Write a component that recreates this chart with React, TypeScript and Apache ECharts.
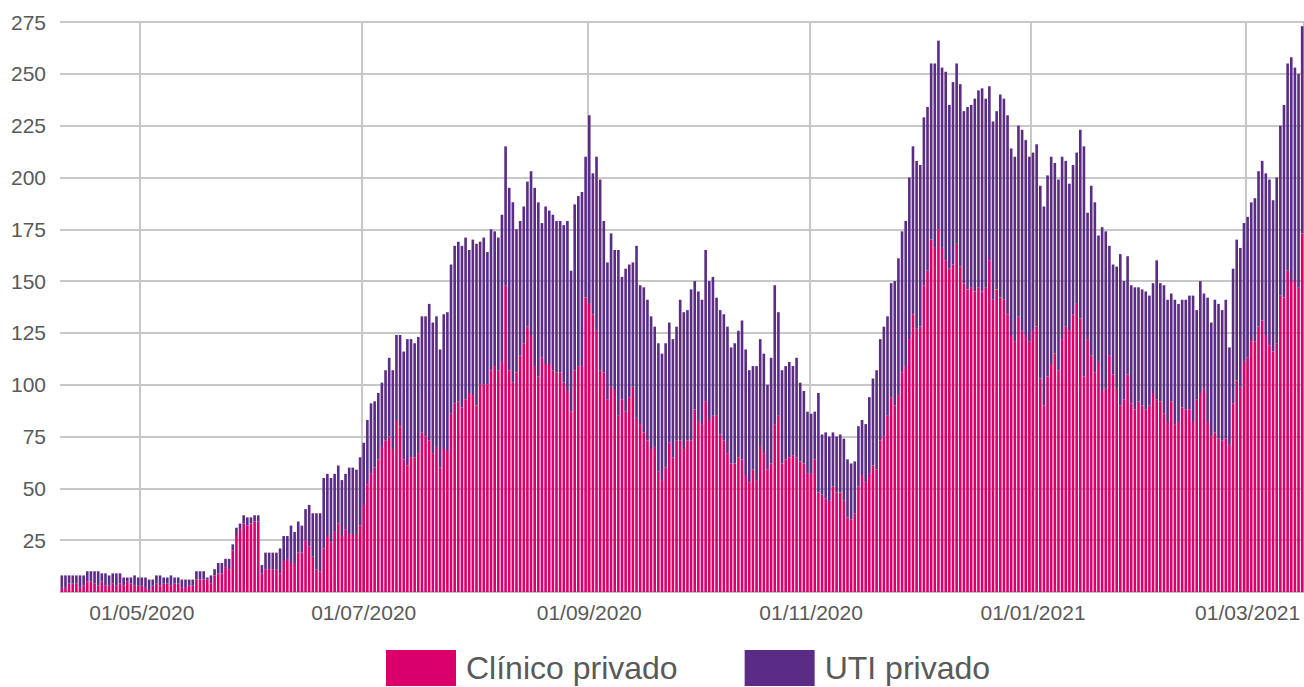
import React, { useEffect, useRef } from "react";
import * as echarts from "echarts";

// First day shown and number of daily categories
const START_DATE = "2020-04-09";
const DAY_COUNT = 342;

// Dates that carry a tick label / vertical grid line
const tickLabels = ["01/05/2020", "01/07/2020", "01/09/2020", "01/11/2020", "01/01/2021", "01/03/2021"];

const legendNames = ["Clínico privado", "UTI privado"];

// Daily occupied beds – Clínico privado (bottom, pink)
const clinico = [
  2, 2, 4, 4, 4, 2, 3, 5, 5, 4,
  3, 5, 3, 3, 4, 3, 4, 3, 5, 4,
  3, 3, 3, 2, 1, 3, 4, 3, 4, 4,
  3, 4, 4, 2, 2, 3, 3, 6, 6, 6,
  6, 4, 8, 9, 9, 12, 11, 20, 27, 30,
  33, 32, 33, 34, 34, 9, 11, 11, 11, 11,
  9, 15, 16, 14, 14, 19, 19, 25, 22, 17,
  11, 10, 21, 27, 24, 29, 33, 27, 30, 28,
  28, 28, 32, 42, 52, 57, 60, 64, 70, 73,
  75, 69, 83, 80, 64, 61, 65, 65, 67, 77,
  75, 73, 67, 70, 60, 69, 68, 86, 91, 92,
  89, 93, 96, 95, 90, 100, 100, 100, 107, 109,
  107, 111, 148, 107, 101, 106, 114, 120, 128, 124,
  109, 104, 113, 110, 110, 107, 106, 106, 101, 97,
  87, 107, 109, 109, 142, 139, 134, 126, 107, 106,
  93, 99, 97, 85, 93, 87, 94, 99, 84, 81,
  77, 73, 69, 70, 58, 54, 60, 72, 65, 73,
  73, 69, 73, 73, 88, 83, 81, 92, 83, 85,
  85, 76, 73, 67, 62, 62, 65, 64, 56, 53,
  59, 54, 70, 67, 59, 62, 81, 85, 62, 64,
  65, 66, 65, 63, 62, 57, 57, 64, 48, 47,
  45, 44, 51, 48, 48, 44, 36, 35, 38, 51,
  56, 53, 57, 61, 59, 73, 75, 85, 94, 90,
  95, 106, 109, 122, 134, 127, 128, 148, 155, 170,
  166, 175, 166, 160, 156, 158, 168, 157, 149, 146,
  147, 145, 147, 145, 147, 160, 141, 146, 142, 141,
  134, 124, 121, 133, 126, 124, 121, 126, 128, 103,
  90, 104, 110, 115, 107, 122, 128, 126, 134, 139,
  132, 104, 122, 114, 106, 111, 97, 98, 114, 105,
  98, 90, 93, 105, 91, 88, 92, 90, 88, 90,
  96, 93, 92, 86, 82, 92, 81, 82, 89, 88,
  88, 82, 93, 96, 98, 82, 75, 77, 74, 73,
  74, 71, 91, 102, 99, 111, 113, 121, 121, 128,
  131, 124, 119, 116, 120, 143, 142, 155, 150, 150,
  147, 173,
];

// Daily occupied beds – UTI privado (stacked on top, purple)
const uti = [
  6, 6, 4, 4, 4, 6, 5, 5, 5, 6,
  7, 4, 6, 5, 5, 6, 5, 4, 2, 3,
  5, 4, 4, 5, 5, 3, 4, 5, 3, 3,
  5, 3, 3, 4, 4, 3, 3, 4, 4, 4,
  1, 4, 3, 5, 5, 4, 5, 3, 4, 3,
  4, 4, 3, 3, 3, 4, 8, 8, 8, 8,
  12, 12, 11, 18, 15, 15, 13, 15, 20, 21,
  27, 28, 34, 30, 31, 28, 28, 27, 27, 32,
  32, 31, 33, 30, 31, 34, 32, 32, 31, 34,
  38, 38, 41, 44, 52, 61, 57, 55, 56, 56,
  58, 66, 63, 63, 57, 65, 67, 72, 76, 77,
  78, 78, 69, 75, 78, 69, 71, 64, 68, 65,
  64, 71, 67, 88, 87, 69, 65, 66, 70, 79,
  86, 84, 65, 76, 74, 75, 73, 73, 76, 82,
  68, 80, 82, 84, 68, 91, 68, 84, 92, 73,
  66, 74, 68, 80, 59, 69, 64, 60, 83, 67,
  70, 68, 64, 58, 62, 61, 60, 58, 57, 55,
  68, 66, 63, 73, 62, 62, 60, 73, 67, 67,
  57, 60, 61, 61, 56, 58, 61, 67, 61, 54,
  50, 55, 52, 48, 41, 51, 67, 50, 45, 45,
  46, 43, 48, 38, 35, 30, 29, 23, 48, 29,
  32, 31, 26, 27, 28, 30, 28, 27, 25, 29,
  27, 28, 37, 42, 48, 49, 53, 48, 55, 60,
  66, 68, 70, 78, 81, 81, 78, 81, 79, 85,
  89, 91, 87, 91, 79, 88, 87, 88, 83, 88,
  88, 93, 95, 98, 91, 84, 86, 86, 98, 97,
  96, 90, 89, 92, 97, 94, 89, 86, 88, 93,
  96, 97, 100, 92, 92, 88, 80, 71, 72, 73,
  91, 111, 61, 82, 82, 61, 79, 76, 53, 53,
  59, 73, 57, 57, 57, 59, 55, 56, 57, 53,
  53, 67, 57, 62, 59, 52, 60, 57, 52, 53,
  55, 61, 43, 54, 46, 60, 55, 64, 65, 63,
  67, 47, 65, 68, 67, 67, 68, 67, 69, 75,
  77, 78, 80, 73, 80, 82, 93, 100, 108, 103,
  103, 100,
];

const pad = (n: number) => (n < 10 ? "0" + n : String(n));

function buildCategories(): string[] {
  const out: string[] = [];
  const start = new Date(START_DATE + "T00:00:00Z").getTime();
  for (let k = 0; k < DAY_COUNT; k++) {
    const d = new Date(start + k * 86400000);
    out.push(pad(d.getUTCDate()) + "/" + pad(d.getUTCMonth() + 1) + "/" + d.getUTCFullYear());
  }
  return out;
}

const FONT = "'Liberation Sans', Arial, Helvetica, sans-serif";

export default function App() {
  const ref = useRef<HTMLDivElement>(null);

  useEffect(() => {
    document.body.style.margin = "0";
    if (!ref.current) return;
    const chart = echarts.init(ref.current, undefined, { renderer: "svg" });
    const categories = buildCategories();
    const showTick = (_i: number, v: string) => tickLabels.indexOf(v) >= 0;

    chart.setOption({
      animation: false,
      color: ["#D9006B", "#5B2C86"],
      textStyle: { fontFamily: FONT },
      grid: { left: 60, right: 0, top: 22, bottom: 95, containLabel: false },
      legend: {
        data: legendNames,
        top: 645,
        left: 381,
        icon: "rect",
        itemWidth: 70,
        itemHeight: 36,
        itemGap: 67,
        textStyle: {
          fontSize: 32,
          lineHeight: 36,
          color: "#595959",
          fontFamily: FONT,
          padding: [0, 0, 0, 5],
        },
      },
      xAxis: {
        type: "category",
        data: categories,
        axisTick: { show: false },
        axisLine: { lineStyle: { color: "#bfbfbf", width: 1 } },
        axisLabel: {
          interval: showTick,
          color: "#595959",
          fontSize: 21,
          fontFamily: FONT,
          margin: 10,
        },
        splitLine: { show: true, interval: showTick, lineStyle: { color: "#c8c8c8", width: 2 } },
      },
      yAxis: {
        type: "value",
        min: 0,
        max: 275,
        interval: 25,
        axisLine: { show: false },
        axisTick: { show: false },
        axisLabel: {
          formatter: (v: number) => (v === 0 ? "" : String(v)),
          color: "#595959",
          fontSize: 21,
          fontFamily: FONT,
          margin: 14,
        },
        splitLine: { lineStyle: { color: "#c8c8c8", width: 2 } },
      },
      series: [
        {
          name: legendNames[0],
          type: "bar",
          stack: "total",
          data: clinico,
          barCategoryGap: "28%",
        },
        {
          name: legendNames[1],
          type: "bar",
          stack: "total",
          data: uti,
          barCategoryGap: "28%",
        },
      ],
    });
    return () => chart.dispose();
  }, []);

  return (
    <div
      ref={ref}
      style={{ position: "absolute", left: 0, top: 0, width: 1304, height: 687 }}
    />
  );
}
